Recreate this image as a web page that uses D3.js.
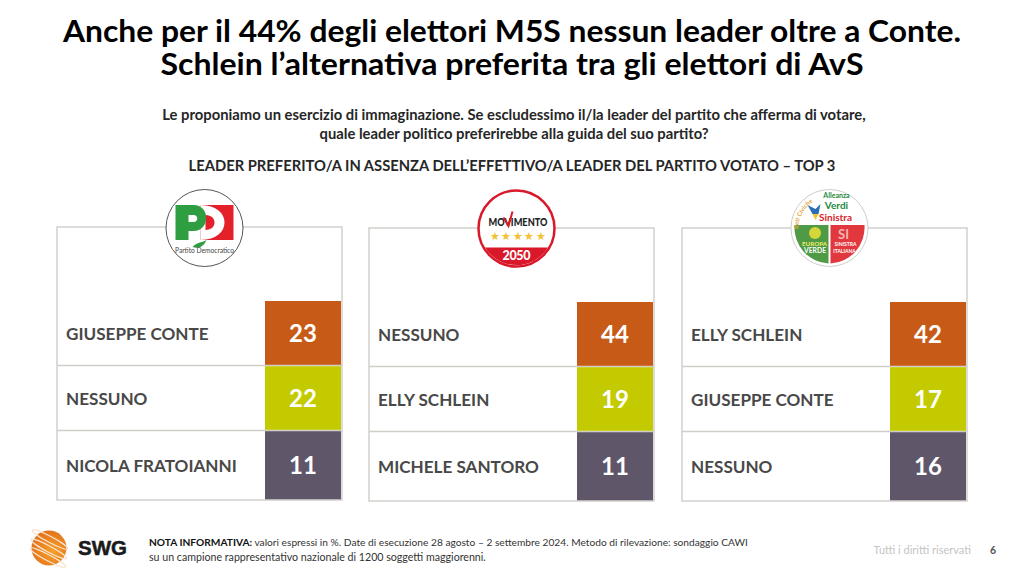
<!DOCTYPE html>
<html>
<head>
<meta charset="utf-8">
<script src="https://cdn.jsdelivr.net/npm/d3@7/dist/d3.min.js"></script>
<style>
  html, body { margin: 0; padding: 0; background: #fff; }
  text { font-family: Lato, "Open Sans", sans-serif; }
</style>
</head>
<body>
<script>
// chart values
var panelNames = ["PD", "M5S", "AVS"];
var leadersPD = ["GIUSEPPE CONTE", "NESSUNO", "NICOLA FRATOIANNI"];
var valuesPD = [23, 22, 11];
var leadersM5S = ["NESSUNO", "ELLY SCHLEIN", "MICHELE SANTORO"];
var valuesM5S = [44, 19, 11];
var leadersAVS = ["ELLY SCHLEIN", "GIUSEPPE CONTE", "NESSUNO"];
var valuesAVS = [42, 17, 16];
var rankColors = ["#c85a17", "#c3cb00", "#605669"];

var titleLines = ["Anche per il 44% degli elettori M5S nessun leader oltre a Conte.",
                  "Schlein l\u2019alternativa preferita tra gli elettori di AvS"];
var questionLines = ["Le proponiamo un esercizio di immaginazione. Se escludessimo il/la leader del partito che afferma di votare,",
                     "quale leader politico preferirebbe alla guida del suo partito?"];
var subtitle = "LEADER PREFERITO/A IN ASSENZA DELL\u2019EFFETTIVO/A LEADER DEL PARTITO VOTATO \u2013 TOP 3";

var width = 1024, height = 576;
var svg = d3.select("body").append("svg")
    .attr("width", width).attr("height", height)
    .style("display", "block");

// titles, a bit smaller than the width needs and stretched so the two lines do not collide
var titleWidths = [898, 703];
svg.selectAll(".title").data(titleLines).enter().append("text")
    .attr("x", 512).attr("y", function(d, i) { return 41.5 + i * 33.5; })
    .attr("text-anchor", "middle")
    .attr("font-size", 29.5).attr("font-weight", 700).attr("fill", "#000")
    .attr("textLength", function(d, i) { return titleWidths[i]; })
    .attr("lengthAdjust", "spacingAndGlyphs")
    .text(function(d) { return d; });

svg.selectAll(".question").data(questionLines).enter().append("text")
    .attr("x", 514).attr("y", function(d, i) { return 120 + i * 19; })
    .attr("text-anchor", "middle")
    .attr("font-size", 14.8).attr("font-weight", 700).attr("fill", "#262626")
    .text(function(d) { return d; });

svg.append("text").attr("x", 512).attr("y", 171)
    .attr("text-anchor", "middle")
    .attr("font-size", 14.75).attr("font-weight", 700).attr("fill", "#262626")
    .text(subtitle);

// panels, one scale across and one scale down the rows
var panelX = d3.scaleOrdinal().domain(panelNames).range([57, 369, 682]);
var panelW = 285;
var panelTop = d3.scaleOrdinal().domain(panelNames).range([227, 228, 228]);
var rowIndex = [0, 1, 2, 3];
var y = d3.scaleOrdinal().domain(rowIndex).range([74, 138.5, 203.5, 273]);

function drawPanel(name, leaders, values) {
  var g = svg.append("g")
      .attr("transform", "translate(" + panelX(name) + "," + panelTop(name) + ")");

  g.append("rect")
      .attr("width", panelW).attr("height", 273)
      .attr("fill", "none").attr("stroke", "#cfcdc8").attr("stroke-width", 1.4);

  // row separators
  g.selectAll(".sep").data([1, 2]).enter().append("line")
      .attr("x1", 0).attr("x2", panelW)
      .attr("y1", function(d) { return y(d); }).attr("y2", function(d) { return y(d); })
      .attr("stroke", "#cfcdc8").attr("stroke-width", 1.4);

  g.selectAll(".cell").data(values).enter().append("rect")
      .attr("x", 208).attr("width", 76)
      .attr("y", function(d, i) { return y(i) + (i ? 0.7 : 0); })
      .attr("height", function(d, i) { return y(i + 1) - y(i) - (i ? 1.4 : 0.7); })
      .attr("fill", function(d, i) { return rankColors[i]; });

  g.selectAll(".leader").data(leaders).enter().append("text")
      .attr("x", 9)
      .attr("y", function(d, i) { return (y(i) + y(i + 1)) / 2 + 6.7; })
      .attr("font-size", 17.1).attr("font-weight", 700).attr("fill", "#484848")
      .text(function(d) { return d; });

  g.selectAll(".val").data(values).enter().append("text")
      .attr("x", 246)
      .attr("y", function(d, i) { return (y(i) + y(i + 1)) / 2 + 8.5; })
      .attr("text-anchor", "middle")
      .attr("font-size", 24).attr("font-weight", 700).attr("fill", "#fff")
      .text(function(d) { return d; });
}
drawPanel("PD", leadersPD, valuesPD);
drawPanel("M5S", leadersM5S, valuesM5S);
drawPanel("AVS", leadersAVS, valuesAVS);

// party logos
function logo(cx, cy, r, stroke, sw) {
  var g = svg.append("g").attr("transform", "translate(" + cx + "," + cy + ")");
  g.append("circle").attr("r", r).attr("fill", "#fff").attr("stroke", stroke).attr("stroke-width", sw);
  return g;
}
function label(g, s, x, yy, size, fill, weight) {
  return g.append("text").attr("x", x).attr("y", yy).attr("text-anchor", "middle")
      .attr("font-size", size).attr("font-weight", weight || 700).attr("fill", fill).text(s);
}

// PD
var pd = logo(204.5, 228, 38.5, "#555", 1);
pd.append("path").attr("fill", "#e4202a").attr("d", "M-4,-23 H29 V12 H-4 Z");
pd.append("path").attr("fill", "#fff").attr("d", "M-4,-23 C28,-23 28,12 -4,12 Z");
pd.append("path").attr("fill", "#e4202a").attr("d", "M1,-13 C13,-13 13,2 1,2 Z");
pd.append("path").attr("fill", "#2f9e41")
    .attr("fill-rule", "evenodd")
    .attr("d", "M-29,-23 H-11 C6,-23 6,3 -11,3 H-16 V12 H-29 Z M-16,-13 V-6 H-11 C-6,-6 -6,-13 -11,-13 Z");
pd.append("path").attr("fill", "#2f9e41").attr("d", "M-12,19 C-8,14 -3,15 2,12 C-1,19 -6,21 -12,19 Z");
label(pd, "Partito Democratico", 0, 25, 7, "#444", 400).attr("textLength", 59).attr("lengthAdjust", "spacingAndGlyphs");

// M5S, the red band at the bottom of the circle
var m5s = logo(516.5, 228.5, 38, "#d9192a", 2.5);
m5s.append("path").attr("fill", "#d9192a").attr("d", "M-31.5,19 H31.5 A37,37 0 0 1 -31.5,19 Z");
label(m5s, "MOVIMENTO", 1.5, -3, 10.5, "#222", 900).attr("textLength", 59).attr("lengthAdjust", "spacingAndGlyphs");
m5s.append("path").attr("fill", "none").attr("stroke", "#d9192a").attr("stroke-width", 2)
    .attr("d", "M-13,-11 L-8,-2.5 L-4,-17");
label(m5s, "\u2605\u2605\u2605\u2605\u2605", 1, 11, 10.5, "#f2c230", 400).attr("textLength", 56);
label(m5s, "2050", 0, 31.5, 12.5, "#fff", 900).attr("textLength", 28);

// AVS, two coloured quarters at the bottom
var avs = logo(829.5, 228, 38.5, "#cfcdc8", 1);
avs.append("path").attr("fill", "#4f9a45").attr("d", "M-1,-3 V35.5 A36,36 0 0 1 -35,-3 Z");
avs.append("path").attr("fill", "#e0383e").attr("d", "M1,-3 V35.5 A36,36 0 0 0 35,-3 Z");
avs.append("path").attr("id", "reti").attr("fill", "none").attr("d", "M-31,1 A31,31 0 0 1 -15,-27");
avs.append("text").attr("font-size", 6).attr("font-weight", 700).attr("fill", "#e3a63c")
  .append("textPath").attr("href", "#reti").text("Reti Civiche");
label(avs, "Alleanza", 7, -30, 7, "#1d8a3f");
label(avs, "Verdi", 7, -19.5, 10, "#1d8a3f");
label(avs, "Sinistra", 6, -7.5, 10, "#d8232a");
avs.append("path").attr("fill", "#2a6fb5").attr("d", "M-22,-23 L-14,-19 L-9,-24 L-11,-14 L-17,-14 Z");
avs.append("path").attr("fill", "#f2c230").attr("d", "M-17,-14 H-11 L-14,-8 Z");
avs.append("circle").attr("cx", -14.5).attr("cy", 5).attr("r", 6).attr("fill", "#d5d63a");
label(avs, "EUROPA", -15, 17.5, 6.2, "#f4ee6a");
label(avs, "VERDE", -14.5, 25, 6.8, "#fff");
label(avs, "SI", 14, 10.5, 13, "#f5b5b0");
label(avs, "SINISTRA", 16, 18, 5, "#fff");
label(avs, "ITALIANA", 15, 24.5, 5, "#fff");

// footer logo
var ballGrad = svg.append("defs").append("radialGradient").attr("id", "ball")
    .attr("cx", "60%").attr("cy", "60%").attr("r", "65%");
ballGrad.append("stop").attr("offset", "0%").attr("stop-color", "#f6a02a");
ballGrad.append("stop").attr("offset", "100%").attr("stop-color", "#e2701a");
var swg = svg.append("g").attr("transform", "translate(49,548)");
swg.append("circle").attr("r", 17.5).attr("fill", "url(#ball)");
swg.selectAll(".band").data([-8, 1, 9]).enter().append("ellipse")
    .attr("cx", function(d) { return d * 0.4; }).attr("cy", function(d) { return d; })
    .attr("rx", 20).attr("ry", 3)
    .attr("transform", "rotate(28)")
    .attr("fill", "none").attr("stroke", "#f7e3cf").attr("stroke-width", 1.2);
svg.append("text").attr("x", 78).attr("y", 555).attr("font-size", 20.5)
    .style("font-family", "'Liberation Sans', sans-serif")
    .attr("font-weight", 700).attr("fill", "#1a1a1a")
    .attr("stroke", "#1a1a1a").attr("stroke-width", 0.5).text("SWG");

// footnote
var note1 = svg.append("text").attr("x", 149).attr("y", 546)
    .attr("font-size", 10.2).attr("fill", "#333");
note1.append("tspan").attr("font-weight", 700).attr("fill", "#111").text("NOTA INFORMATIVA:");
note1.append("tspan").text(" valori espressi in %. Date di esecuzione 28 agosto \u2013 2 settembre 2024. Metodo di rilevazione: sondaggio CAWI");
svg.append("text").attr("x", 149).attr("y", 561)
    .attr("font-size", 10.65).attr("fill", "#333")
    .text("su un campione rappresentativo nazionale di 1200 soggetti maggiorenni.");

svg.append("text").attr("x", 971).attr("y", 554).attr("text-anchor", "end")
    .attr("font-size", 11).attr("fill", "#c4c4c4").text("Tutti i diritti riservati");
svg.append("text").attr("x", 993).attr("y", 554).attr("text-anchor", "middle")
    .attr("font-size", 10.5).attr("font-weight", 700).attr("fill", "#555").text("6");
</script>
</body>
</html>
